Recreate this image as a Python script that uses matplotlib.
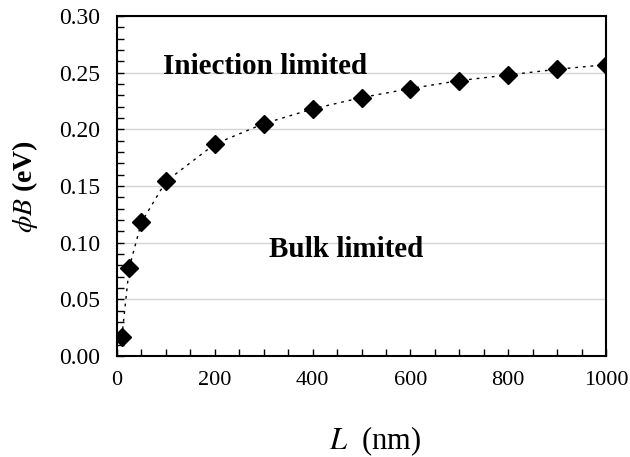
import matplotlib.pyplot as plt
import numpy as np
from matplotlib.ticker import MultipleLocator

# thickness L (nm) and barrier phi_B (eV)
L_nm = [10, 25, 50, 100, 200, 300, 400, 500, 600, 700, 800, 900, 1000]
phi_B = [0.017, 0.078, 0.118, 0.154, 0.187, 0.205, 0.218, 0.228, 0.236,
         0.243, 0.248, 0.253, 0.257]

plt.rcParams['font.family'] = ['Liberation Serif', 'DejaVu Serif']
plt.rcParams['mathtext.fontset'] = 'stix'

fig = plt.figure(figsize=(6.3, 4.57), dpi=100)
ax = fig.add_axes([0.1857, 0.221, 0.7763, 0.744])

ax.plot(L_nm, phi_B, color='black', lw=1.0, ls=(0, (2, 3.5)),
        marker='D', ms=9.5, mfc='black', mec='black', zorder=3)

ax.set_xlim(0, 1000)
ax.set_ylim(0, 0.30)
ax.xaxis.set_major_locator(MultipleLocator(200))
ax.xaxis.set_minor_locator(MultipleLocator(50))
ax.yaxis.set_major_locator(MultipleLocator(0.05))
ax.yaxis.set_minor_locator(MultipleLocator(0.01))
ax.yaxis.set_major_formatter(plt.FuncFormatter(lambda v, p: '{:.2f}'.format(v)))

ax.grid(axis='y', which='major', color='#d4d4d4', lw=1.0)
ax.set_axisbelow(True)

for s in ax.spines.values():
    s.set_linewidth(1.5)

ax.tick_params(axis='both', which='both', direction='in', length=5, width=1.0,
               top=False, right=False)
ax.tick_params(axis='x', which='major', labelsize=16, pad=11)
ax.tick_params(axis='y', which='major', labelsize=17, pad=12)

ax.set_xlabel(r'$L$  (nm)', fontsize=22)
ax.xaxis.set_label_coords(0.527, -0.20)
ax.set_ylabel(r'$\phi B$ (eV)', fontsize=20, fontweight='bold', labelpad=14)

ax.text(94, 0.2485, 'Iniection limited', fontsize=21, fontweight='bold')
ax.text(310, 0.087, 'Bulk limited', fontsize=21, fontweight='bold')

fig.savefig('out.png', dpi=100)
